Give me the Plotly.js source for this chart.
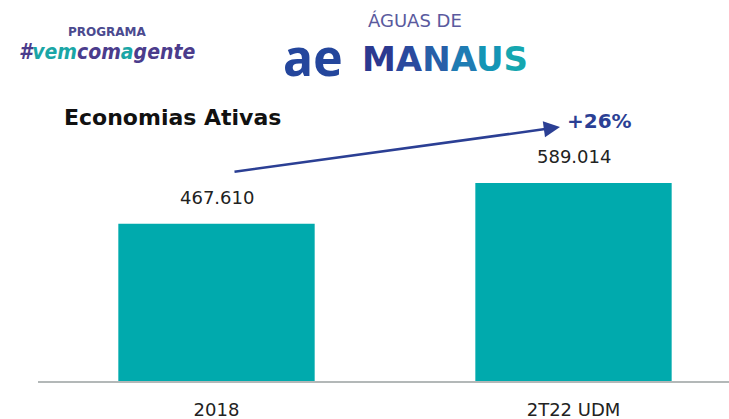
<!DOCTYPE html>
<html>
<head>
<meta charset="utf-8">
<script src="https://cdn.plot.ly/plotly-3.0.1.min.js"></script>
<style>html,body{margin:0;padding:0;background:#fff;}#chart{width:729px;height:419px;}</style>
</head>
<body>
<div id="chart"></div>
<script>
// Data
var categories = ["2018", "2T22 UDM"];
var values = [467610, 589014];
var valueLabels = ["467.610", "589.014"];
var chartTitle = "Economias Ativas";
var growthLabel = "+26%";

// Layout geometry (pixels)
var W = 729, H = 419;
var mL = 38, mR = 0, mT = 100, mB = 38;
var plotW = W - mL - mR, plotH = H - mT - mB;
function px(x) { return (x - mL) / plotW; }
function py(y) { return (H - mB - y) / plotH; }

var teal = "#00AAAD";
var navy = "#2B3F94";
var font = "DejaVu Sans, sans-serif";

var trace = {
  type: "bar",
  x: categories,
  y: values,
  marker: { color: teal },
  hoverinfo: "none"
};

var annotations = [];
// value labels (x given as category index)
for (var i = 0; i < categories.length; i++) {
  annotations.push({
    x: i, y: values[i], xref: "x", yref: "y",
    text: valueLabels[i], showarrow: false,
    yanchor: "bottom", yshift: 14,
    font: { family: font, size: 18, color: "#222" }
  });
}
// title
annotations.push({
  x: px(62), y: py(117), xref: "paper", yref: "paper",
  xanchor: "left", yanchor: "middle", showarrow: false,
  text: "<b>" + chartTitle + "</b>",
  font: { family: font, size: 22, color: "#111" }
});
// growth arrow
annotations.push({
  x: px(560), y: py(127), xref: "paper", yref: "paper",
  ax: 233 - 560, ay: 172 - 127, axref: "pixel", ayref: "pixel",
  text: "", showarrow: true, arrowhead: 2, arrowsize: 1.3, arrowwidth: 2.5,
  arrowcolor: navy
});
annotations.push({
  x: px(599), y: py(121), xref: "paper", yref: "paper",
  xanchor: "center", yanchor: "middle", showarrow: false,
  text: "<b>" + growthLabel + "</b>",
  font: { family: font, size: 20, color: navy }
});
// logos (as text)
annotations.push({
  x: px(107), y: py(32), xref: "paper", yref: "paper",
  xanchor: "center", yanchor: "middle", showarrow: false,
  text: "<b>PROGRAMA</b>",
  font: { family: font, size: 12, color: "#4B4A8F" }
});
annotations.push({
  x: px(107), y: py(52), xref: "paper", yref: "paper",
  xanchor: "center", yanchor: "middle", showarrow: false,
  text: "<b><i><span style='color:#4B3C8C'>#</span><span style='color:#1AA6A6'>vem</span><span style='color:#4B3C8C'>com</span><span style='color:#1AA6A6'>a</span><span style='color:#4B3C8C'>gente</span></i></b>",
  font: { family: "DejaVu Sans Condensed, DejaVu Sans, sans-serif", size: 21, color: "#4B3C8C" }
});
annotations.push({
  x: px(415), y: py(20), xref: "paper", yref: "paper",
  xanchor: "center", yanchor: "middle", showarrow: false,
  text: "ÁGUAS DE",
  font: { family: font, size: 18, color: "#5A5A9E" }
});
annotations.push({
  x: px(313), y: py(57), xref: "paper", yref: "paper",
  xanchor: "center", yanchor: "middle", showarrow: false,
  text: "<b>ae</b>",
  font: { family: "Noto Sans, sans-serif", size: 50, color: "#24469C" }
});
annotations.push({
  x: px(445), y: py(59), xref: "paper", yref: "paper",
  xanchor: "center", yanchor: "middle", showarrow: false,
  text: "<b><span style='color:#2B3990'>M</span><span style='color:#2A4A9E'>A</span><span style='color:#275FA8'>N</span><span style='color:#1F7CB3'>A</span><span style='color:#1495B5'>U</span><span style='color:#15A7B0'>S</span></b>",
  font: { family: font, size: 34, color: "#2B3990" }
});

var yMax = values[1] * plotH / 198;

var layout = {
  width: W, height: H,
  margin: { l: mL, r: mR, t: mT, b: mB, pad: 0 },
  paper_bgcolor: "#fff", plot_bgcolor: "#fff",
  showlegend: false,
  bargap: 0.45,
  xaxis: {
    type: "category",
    range: [-0.5, -0.5 + plotW / 357],
    showline: true, linecolor: "#B3B8B8", linewidth: 2,
    ticks: "", showgrid: false, zeroline: false,
    tickfont: { family: font, size: 18, color: "#222" },
    ticklabelstandoff: 11,
    fixedrange: true
  },
  yaxis: {
    range: [0, yMax],
    visible: false, showgrid: false, zeroline: false, fixedrange: true
  },
  annotations: annotations
};

Plotly.newPlot("chart", [trace], layout, { displayModeBar: false, staticPlot: true });
</script>
</body>
</html>
